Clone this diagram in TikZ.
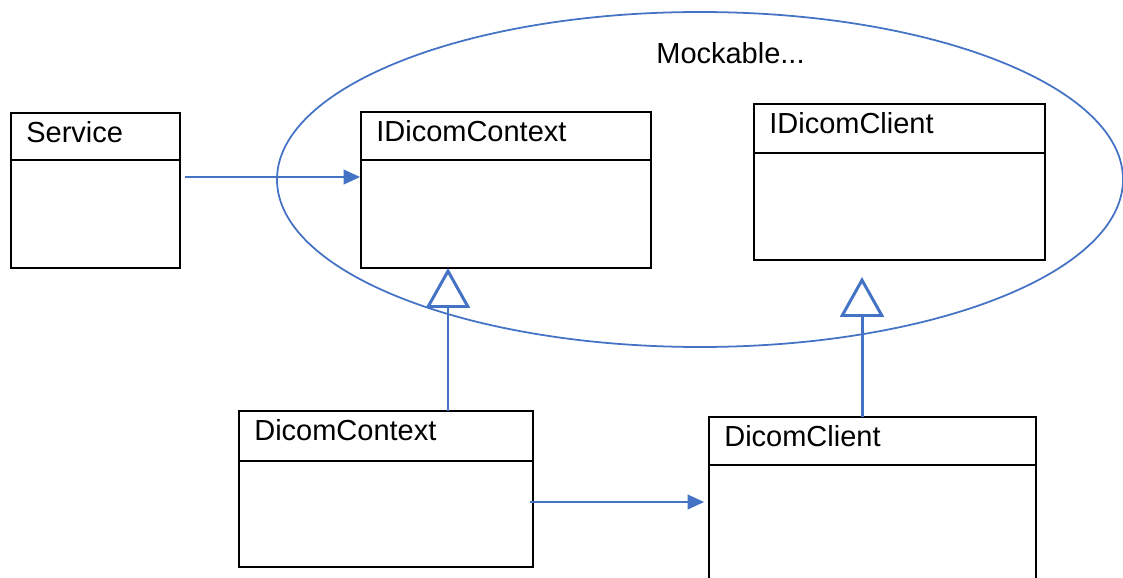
\documentclass[tikz,border=0pt]{standalone}
\usepackage{fontspec}
\setmainfont{Liberation Sans}
\usetikzlibrary{calc,arrows.meta,shapes.geometric}
\definecolor{umlblue}{RGB}{68,114,196}
\def\px{0.02cm}
\tikzset{
	classbox/.style={draw=black, line width=1.2pt, inner sep=0pt, outer sep=0pt},
	classname/.style={anchor=base west, inner sep=0pt, font=\fontsize{16.5}{20}\selectfont},
	assoc/.style={draw=umlblue, line width=0.6pt, -{Triangle[length=0.33cm, width=0.3cm]}},
	inherit/.style={draw=umlblue, line width=1.7pt, -{Triangle[open, length=0.8cm, width=0.88cm]}},
}
% (name)(left,top)(width:height:header){title}
\def\umlclass(#1)(#2,#3)(#4:#5:#6)#7{%
	\node[classbox, minimum width=#4*\px, minimum height=#5*\px, anchor=north west] (#1) at (#2,#3) {};
	\draw[line width=1.2pt] ($(#1.north west)+(0,#6)$) -- ($(#1.north east)+(0,#6)$);
	\node[classname] (#1-name) at ($(#1.north west)+(15,29)$) {#7};
}

\begin{document}
\begin{tikzpicture}[x=0.02cm, y=-0.02cm]
		%%%%% START %%%%%
		\useasboundingbox (0,0) rectangle (1123,578);
		\clip (0,0) rectangle (1123,578);
		
		\node[ellipse, draw=umlblue, line width=1pt, inner sep=0pt, minimum width=846*\px, minimum height=335*\px] (mock) at (700,179.5) {};
		\node[classname] (mock-name) at (656,63) {Mockable...};
		
		\umlclass(svc)(11,113)(169:155:47){Service}
		\umlclass(ictx)(361,112)(290:156:48){IDicomContext}
		\umlclass(icli)(754,104)(291:156:49){IDicomClient}
		\umlclass(dctx)(239,411)(294:156:50){DicomContext}
		\umlclass(dcli)(709,417)(327:180:48){DicomClient}
		
		\draw[assoc] ($(svc.east)+(5,-13.5)$) -- ($(svc.east -| ictx.west)+(-1,-13.5)$);
		\draw[assoc] ($(dctx.east)+(-3,13)$) -- ($(dctx.east -| dcli.west)+(-5,13)$);
		
		\draw[inherit] ($(dctx.north)+(62,0)$) -- ($(ictx.south)+(-58,0)$);
		\draw[inherit] ($(dcli.north)+(-10.5,0)$) -- ($(icli.south)+(-37.5,17)$);
		
		%%%%% END %%%%%
	\end{tikzpicture}
\end{document}
